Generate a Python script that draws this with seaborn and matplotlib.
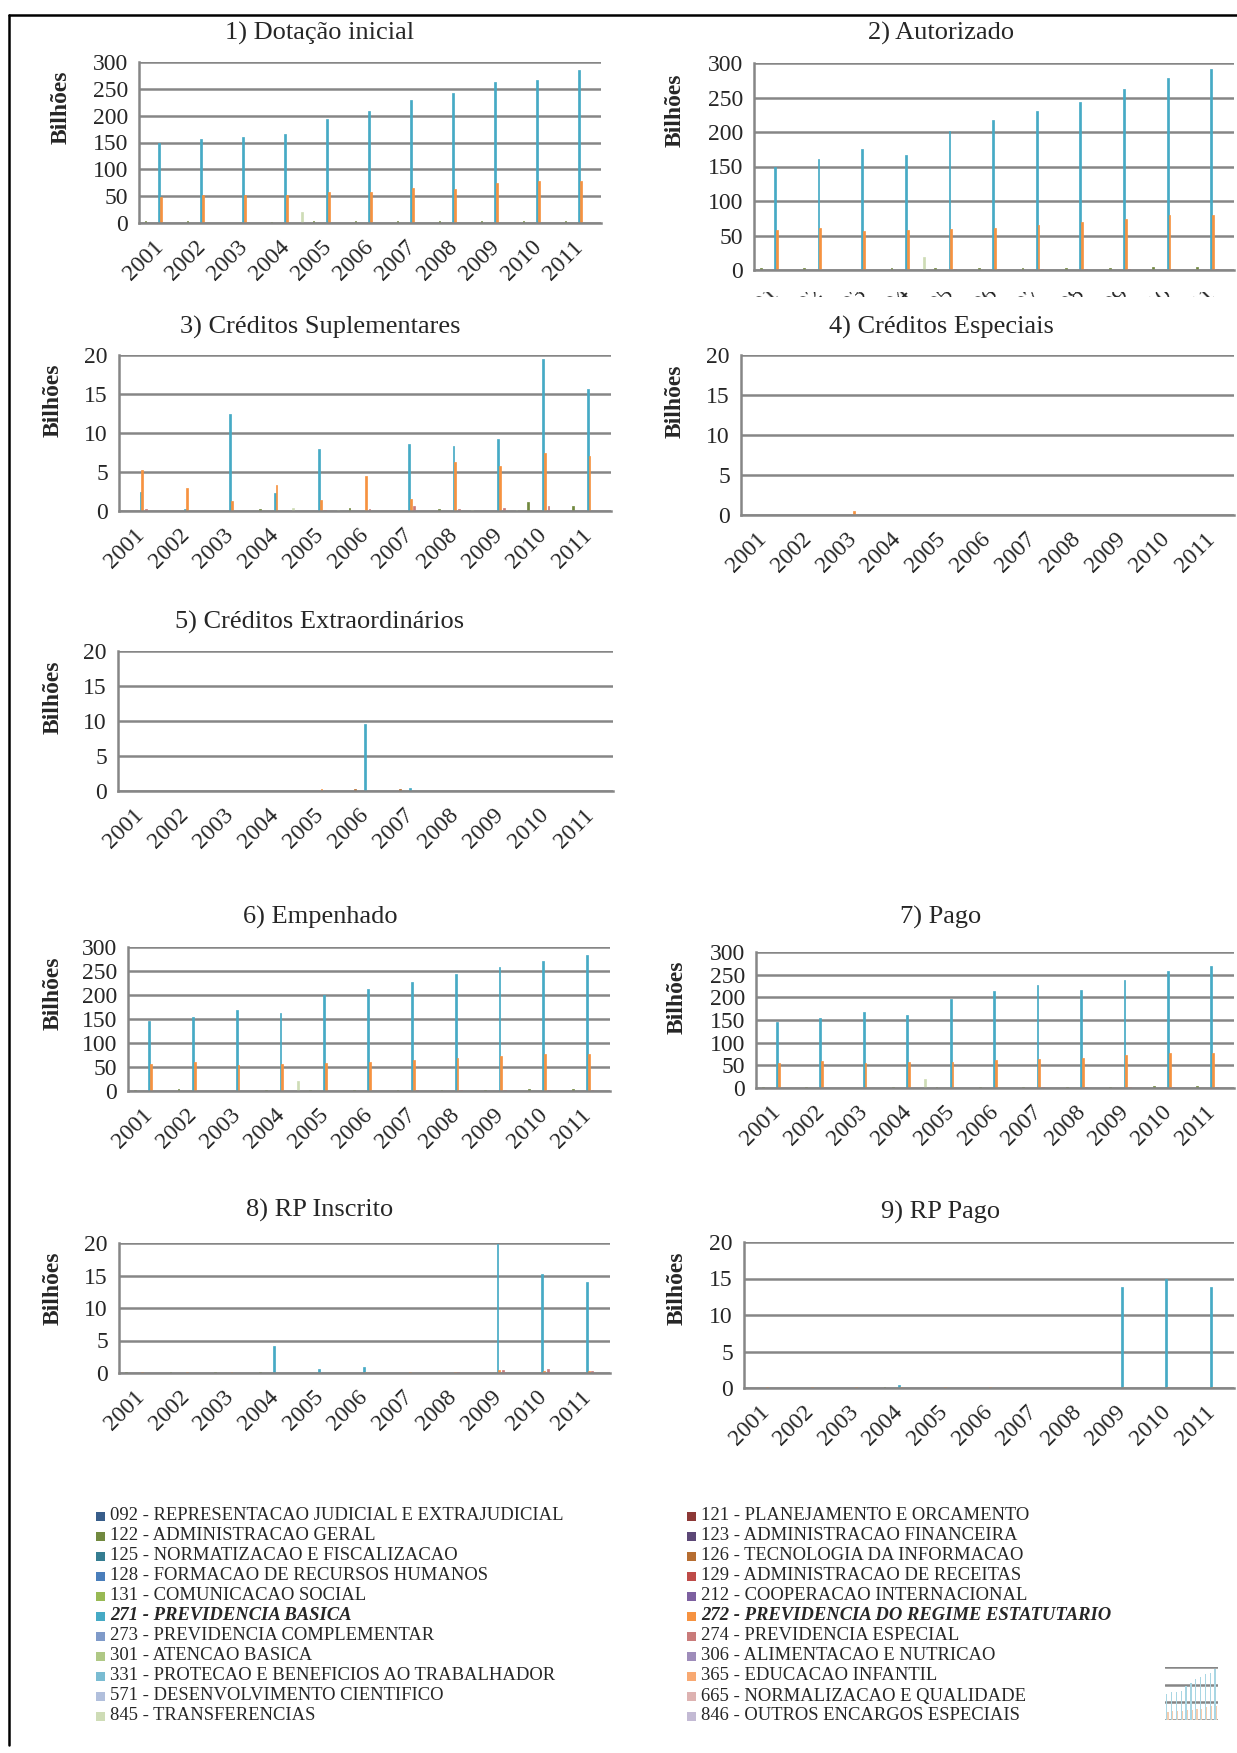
import matplotlib
matplotlib.use("Agg")
import matplotlib.pyplot as plt
import numpy as np
import pandas as pd
import seaborn as sns
from matplotlib.patches import Rectangle
from matplotlib.lines import Line2D
from matplotlib.transforms import Bbox, TransformedBbox

sns.set_style("white")
plt.rcParams["font.family"] = ["Liberation Serif", "DejaVu Serif"]

YEARS = [str(y) for y in range(2001, 2012)]

CODES = ["092", "121", "122", "123", "125", "126", "128", "129", "131", "212", "271",
         "272", "273", "274", "301", "306", "331", "365", "571", "665", "845", "846"]
NAMES = ["REPRESENTACAO JUDICIAL E EXTRAJUDICIAL", "PLANEJAMENTO E ORCAMENTO",
         "ADMINISTRACAO GERAL", "ADMINISTRACAO FINANCEIRA",
         "NORMATIZACAO E FISCALIZACAO", "TECNOLOGIA DA INFORMACAO",
         "FORMACAO DE RECURSOS HUMANOS", "ADMINISTRACAO DE RECEITAS",
         "COMUNICACAO SOCIAL", "COOPERACAO INTERNACIONAL",
         "PREVIDENCIA BASICA", "PREVIDENCIA DO REGIME ESTATUTARIO",
         "PREVIDENCIA COMPLEMENTAR", "PREVIDENCIA ESPECIAL",
         "ATENCAO BASICA", "ALIMENTACAO E NUTRICAO",
         "PROTECAO E BENEFICIOS AO TRABALHADOR", "EDUCACAO INFANTIL",
         "DESENVOLVIMENTO CIENTIFICO", "NORMALIZACAO E QUALIDADE",
         "TRANSFERENCIAS", "OUTROS ENCARGOS ESPECIAIS"]
COLORS = ["#385D8A", "#8C3836", "#71893F", "#5C4776", "#357D91", "#B66D31",
          "#4A7EBB", "#BE4B48", "#98B954", "#7D60A0", "#46AAC5", "#F69240",
          "#7F9AC9", "#C97B7A", "#AFC885", "#9E8CBA", "#7ABCD2", "#F8A972",
          "#B1BFDC", "#DDB2B1", "#CEDCB6", "#C3BAD4"]
HIGHLIGHT = ["271", "272"]

# 1) Dotação inicial
DOT_271 = [150, 156, 160, 165, 193, 208, 230, 242, 262, 266, 286]
DOT_272 = [48, 51.5, 53, 53, 57, 57, 65, 63, 74.5, 77.5, 77.5]
DOT_122 = [3, 3, 0.5, 2, 3, 3, 3, 3, 3, 3, 3]
DOT_845 = [0, 0, 0, 20, 0, 0, 0, 0, 0, 0, 0]

# 2) Autorizado
AUT_271 = [150, 161, 176, 167, 201, 217, 231, 244, 262, 278, 292]
AUT_272 = [58, 61, 57, 58.5, 59.5, 61.5, 65, 69, 74.5, 79, 80]
AUT_122 = [3.5, 3.5, 0.5, 2.5, 3, 3, 3, 3, 3.5, 4, 4]
AUT_274 = [0, 0, 0, 0, 1, 1, 1, 2, 2, 2, 2]
AUT_845 = [0, 0, 0, 19, 0, 0, 0, 0, 0, 0, 0]

# 3) Créditos Suplementares
SUP_271 = [2.4, 0.25, 12.4, 2.3, 8.0, 0, 8.6, 8.3, 9.2, 19.5, 15.7]
SUP_272 = [5.3, 2.9, 1.3, 3.3, 1.4, 4.45, 1.6, 6.3, 5.8, 7.4, 7.1]
SUP_274 = [0.3, 0, 0, 0, 0.1, 0.2, 0.6, 0.2, 0.4, 0.6, 0]
SUP_122 = [0, 0, 0, 0.3, 0, 0.4, 0, 0.3, 0, 1.1, 0.65]
SUP_845 = [0, 0, 0, 0.4, 0.1, 0, 0, 0.1, 0.1, 0, 0]

# 4) Créditos Especiais
ESP_272 = [0, 0, 0.5, 0, 0, 0, 0, 0, 0, 0, 0]

# 5) Créditos Extraordinários
EXT_271 = [0, 0, 0, 0, 0, 9.55, 0.4, 0, 0, 0, 0]
EXT_272 = [0, 0, 0, 0, 0.3, 0, 0, 0, 0, 0, 0]
EXT_126 = [0, 0, 0, 0, 0, 0.3, 0.3, 0, 0, 0, 0]

# 6) Empenhado
EMP_271 = [146.5, 155, 169, 162, 200, 213.5, 227, 243, 258.5, 271, 282.5]
EMP_272 = [57, 60, 55, 57, 58, 61, 65, 68, 72.5, 78, 77.5]
EMP_122 = [3, 3.5, 0.5, 2, 2.5, 3, 3, 3, 3, 3.5, 3.5]
EMP_274 = [0, 0, 0, 0, 0.5, 1, 1.5, 1.5, 2, 2, 2]
EMP_845 = [0, 0, 0, 20, 0, 0, 0, 0, 0, 0, 0]

# 7) Pago
PAG_271 = [145, 154, 167, 160, 195.5, 214.5, 226.5, 217, 238, 257, 269]
PAG_272 = [56, 59, 54.5, 56.5, 57.5, 61, 64, 67, 72, 77, 77]
PAG_122 = [3, 3, 0.5, 2, 2.5, 3, 3, 3, 3, 3.5, 3.5]
PAG_274 = [0, 0, 0, 0, 0.5, 1, 1.5, 1.5, 2, 2, 2]
PAG_845 = [0, 0, 0, 19, 0, 0, 0, 0, 0, 0, 0]

# 8) RP Inscrito
RPI_271 = [0, 0, 0, 4.1, 0.6, 1.0, 0, 0, 19.9, 15.3, 14.0]
RPI_272 = [0.2, 0.1, 0.2, 0, 0, 0.2, 0.1, 0.2, 0.4, 0.3, 0.25]
RPI_274 = [0, 0, 0, 0, 0, 0, 0, 0.2, 0.4, 0.55, 0.25]
RPI_122 = [0.2, 0.15, 0.2, 0.2, 0, 0, 0, 0, 0, 0, 0]

# 9) RP Pago
RPP_271 = [0, 0, 0, 0.4, 0, 0, 0, 0, 13.8, 15.0, 13.8]
RPP_272 = [0.1, 0.1, 0.1, 0.1, 0.1, 0.1, 0.05, 0.05, 0.1, 0.1, 0.1]
RPP_122 = [0, 0, 0, 0.2, 0, 0, 0, 0, 0, 0, 0]

PALETTE = dict(zip(CODES, COLORS))
GRID = "#868686"
W, H = 1237, 1753

fig = plt.figure(figsize=(W / 100, H / 100), dpi=100)


def long_table(series):
    rows = []
    for code in CODES:
        vals = series.get(code, [0.0] * len(YEARS))
        for year, v in zip(YEARS, vals):
            if v > 0:
                rows.append((year, code, v))
    return pd.DataFrame(rows, columns=["ano", "funcao", "bilhoes"])


def px_axes(left, top, right, bottom):
    return fig.add_axes([left / W, 1 - bottom / H, (right - left) / W, (bottom - top) / H])


def draw_panel(rect, series, ymax, step, title, title_xy, ylab_xy, cut_labels=None):
    ax = px_axes(*rect)
    sns.barplot(data=long_table(series), x="ano", y="bilhoes", hue="funcao",
                order=YEARS, hue_order=CODES, palette=PALETTE, width=0.9, dodge=True,
                saturation=1, linewidth=0.5, errorbar=None, legend=False, ax=ax)
    # outline each bar in its own colour so the thin bars render solid
    for bar in ax.patches:
        bar.set_edgecolor(bar.get_facecolor())
    ax.set_xlim(-0.5, len(YEARS) - 0.5)
    ax.set_ylim(0, ymax)
    ax.set_yticks(np.arange(0, ymax + 1, step))
    ax.yaxis.grid(True, color=GRID, lw=1.8)
    ax.xaxis.grid(False)
    ax.set_axisbelow(True)
    for s in ("top", "right"):
        ax.spines[s].set_visible(False)
    for s in ("left", "bottom"):
        ax.spines[s].set_color(GRID)
        ax.spines[s].set_linewidth(1.8)
    ax.set_xlabel("")
    ax.set_ylabel("")
    ax.tick_params(axis="y", length=6, width=1.6, color=GRID, labelsize=17, pad=2)
    ax.set_xticks(range(len(YEARS)))
    ax.set_xticks(np.arange(-0.5, len(YEARS), 1), minor=True)
    ax.set_xticklabels(YEARS, rotation=45, ha="right", va="center", rotation_mode="anchor")
    ax.tick_params(axis="x", which="major", length=0, labelsize=17, pad=15)
    ax.tick_params(axis="x", which="minor", length=0 if cut_labels else 7,
                   width=1.6, color=GRID)
    if cut_labels:
        band = TransformedBbox(Bbox.from_extents(0, 1 - cut_labels[1] / H, 1,
                                                 1 - cut_labels[0] / H), fig.transFigure)
        for lbl in ax.get_xticklabels():
            lbl.set_clip_on(True)
            lbl.set_clip_box(band)
    fig.text(title_xy[0] / W, 1 - title_xy[1] / H, title, ha="center", va="center",
             fontsize=19)
    fig.text(ylab_xy[0] / W, 1 - ylab_xy[1] / H, "Bilhões", ha="center", va="center",
             rotation=90, fontsize=17, fontweight="bold")
    return ax


draw_panel((139, 62, 601, 223), {"271": DOT_271, "272": DOT_272, "122": DOT_122, "845": DOT_845},
           300, 50, "1) Dotação inicial", (320, 33), (61, 107))
draw_panel((754, 63, 1234, 270), {"271": AUT_271, "272": AUT_272, "122": AUT_122,
                                  "274": AUT_274, "845": AUT_845},
           300, 50, "2) Autorizado", (941, 33), (675, 110), cut_labels=(292, 297))
draw_panel((119, 355, 611, 511), {"271": SUP_271, "272": SUP_272, "274": SUP_274,
                                  "122": SUP_122, "845": SUP_845},
           20, 5, "3) Créditos Suplementares", (320, 327), (53, 400))
draw_panel((741, 355, 1234, 515), {"272": ESP_272},
           20, 5, "4) Créditos Especiais", (941, 327), (675, 401))
draw_panel((118, 651, 613, 791), {"271": EXT_271, "272": EXT_272, "126": EXT_126},
           20, 5, "5) Créditos Extraordinários", (320, 622), (53, 697))
draw_panel((128, 947, 610, 1091), {"271": EMP_271, "272": EMP_272, "122": EMP_122,
                                   "274": EMP_274, "845": EMP_845},
           300, 50, "6) Empenhado", (320, 917), (53, 993))
draw_panel((756, 952, 1234, 1088), {"271": PAG_271, "272": PAG_272, "122": PAG_122,
                                    "274": PAG_274, "845": PAG_845},
           300, 50, "7) Pago", (941, 917), (677, 997))
draw_panel((119, 1243, 610, 1373), {"271": RPI_271, "272": RPI_272, "274": RPI_274,
                                    "122": RPI_122},
           20, 5, "8) RP Inscrito", (320, 1210), (53, 1288))
draw_panel((744, 1242, 1234, 1388), {"271": RPP_271, "272": RPP_272, "122": RPP_122},
           20, 5, "9) RP Pago", (941, 1212), (677, 1288))

# shared legend, two columns filled row by row
for col, (x_sw, x_tx) in enumerate([(96, 110), (687, 701)]):
    for row in range(11):
        idx = 2 * row + col
        code = CODES[idx]
        yc = 1516 + 20 * row
        fig.add_artist(Rectangle((x_sw / W, 1 - (yc + 4.5) / H), 9 / W, 9 / H,
                                 transform=fig.transFigure, facecolor=COLORS[idx], lw=0))
        strong = code in HIGHLIGHT
        fig.text(x_tx / W, 1 - yc / H, f"{code} - {NAMES[idx]}", ha="left", va="center",
                 fontsize=13.4, fontweight="bold" if strong else "normal",
                 fontstyle="italic" if strong else "normal")

# small chart thumbnail in the corner
thumb = px_axes(1165, 1667, 1218, 1720)
thumb_df = long_table({"271": DOT_271, "272": DOT_272})
sns.barplot(data=thumb_df, x="ano", y="bilhoes", hue="funcao", order=YEARS,
            hue_order=HIGHLIGHT, palette={"271": "#A9D6E3", "272": "#F3CDB0"},
            width=0.5, dodge=True, saturation=1, linewidth=0, errorbar=None,
            legend=False, ax=thumb)
thumb.set_ylim(0, 300)
thumb.set_yticks([0, 100, 200, 300])
thumb.yaxis.grid(True, color=GRID, lw=1.8)
thumb.set_axisbelow(True)
thumb.tick_params(length=0, labelleft=False, labelbottom=False)
thumb.set_xlabel("")
thumb.set_ylabel("")
for s in thumb.spines.values():
    s.set_visible(False)

# page frame
fig.add_artist(Line2D([9 / W, 9 / W], [1 - 15 / H, 1 - 1745 / H], color="black", lw=1.8,
                      transform=fig.transFigure))
fig.add_artist(Line2D([9 / W, 1], [1 - 15 / H, 1 - 15 / H], color="black", lw=1.8,
                      transform=fig.transFigure))

fig.savefig("out.png", dpi=100, facecolor="white")
